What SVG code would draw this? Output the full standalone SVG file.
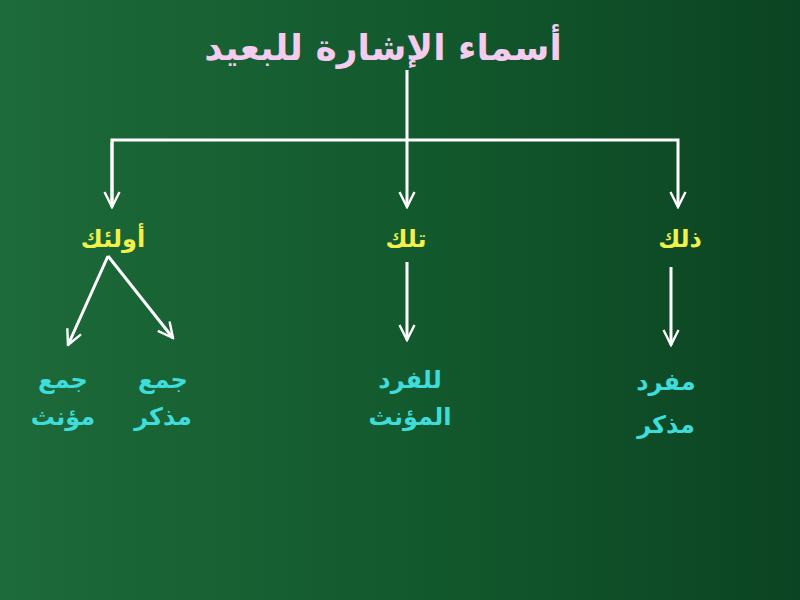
<svg xmlns="http://www.w3.org/2000/svg" width="800" height="600" viewBox="0 0 800 600">
<defs>
<linearGradient id="bg" x1="0" y1="0" x2="1" y2="0">
<stop offset="0" stop-color="#1d6a3a"/>
<stop offset="0.5" stop-color="#135a2e"/>
<stop offset="1" stop-color="#0b4422"/>
</linearGradient>
<marker id="ah" viewBox="0 0 12 12" refX="11" refY="6" markerWidth="6" markerHeight="6" orient="auto" markerUnits="strokeWidth">
<polyline points="1,1 11,6 1,11" fill="none" stroke="#ffffff" stroke-width="1.6"/>
</marker>
</defs>
<style>
text{font-family:"DejaVu Sans","Noto Sans",sans-serif;font-weight:bold;text-anchor:middle;direction:rtl}
.title{fill:#f4ccef;font-size:36px}
.lvl1{fill:#f2f04a;font-size:24px}
.lvl2{fill:#3fdcdc;font-size:24px}
.con{stroke:#ffffff;stroke-width:3;fill:none}
</style>
<rect width="800" height="600" fill="url(#bg)"/>
<g id="connectors">
<line class="con" x1="407" y1="70" x2="407" y2="207" marker-end="url(#ah)"/>
<polyline class="con" points="112,207 112,140 678,140 678,207" marker-end="url(#ah)"/>
<line class="con" x1="112" y1="142" x2="112" y2="207" marker-end="url(#ah)"/>
<line class="con" x1="407" y1="262" x2="407" y2="340" marker-end="url(#ah)"/>
<line class="con" x1="671" y1="267" x2="671" y2="345" marker-end="url(#ah)"/>
<line class="con" x1="108" y1="256" x2="68" y2="345" marker-end="url(#ah)"/>
<line class="con" x1="108" y1="256" x2="173" y2="338" marker-end="url(#ah)"/>
</g>
<g id="title"><text class="title" x="383" y="60">أسماء الإشارة للبعيد</text></g>
<g id="ulaika"><text class="lvl1" x="113" y="247">أولئك</text></g>
<g id="tilka"><text class="lvl1" x="406" y="247">تلك</text></g>
<g id="dhalika"><text class="lvl1" x="680" y="247">ذلك</text></g>
<g id="jam-muannath"><text class="lvl2" x="63" y="388">جمع</text><text class="lvl2" x="63" y="425">مؤنث</text></g>
<g id="jam-mudhakkar"><text class="lvl2" x="163" y="388">جمع</text><text class="lvl2" x="163" y="425">مذكر</text></g>
<g id="lilfard"><text class="lvl2" x="410" y="388">للفرد</text><text class="lvl2" x="410" y="425">المؤنث</text></g>
<g id="mufrad"><text class="lvl2" x="666" y="390">مفرد</text><text class="lvl2" x="666" y="433">مذكر</text></g>
</svg>
